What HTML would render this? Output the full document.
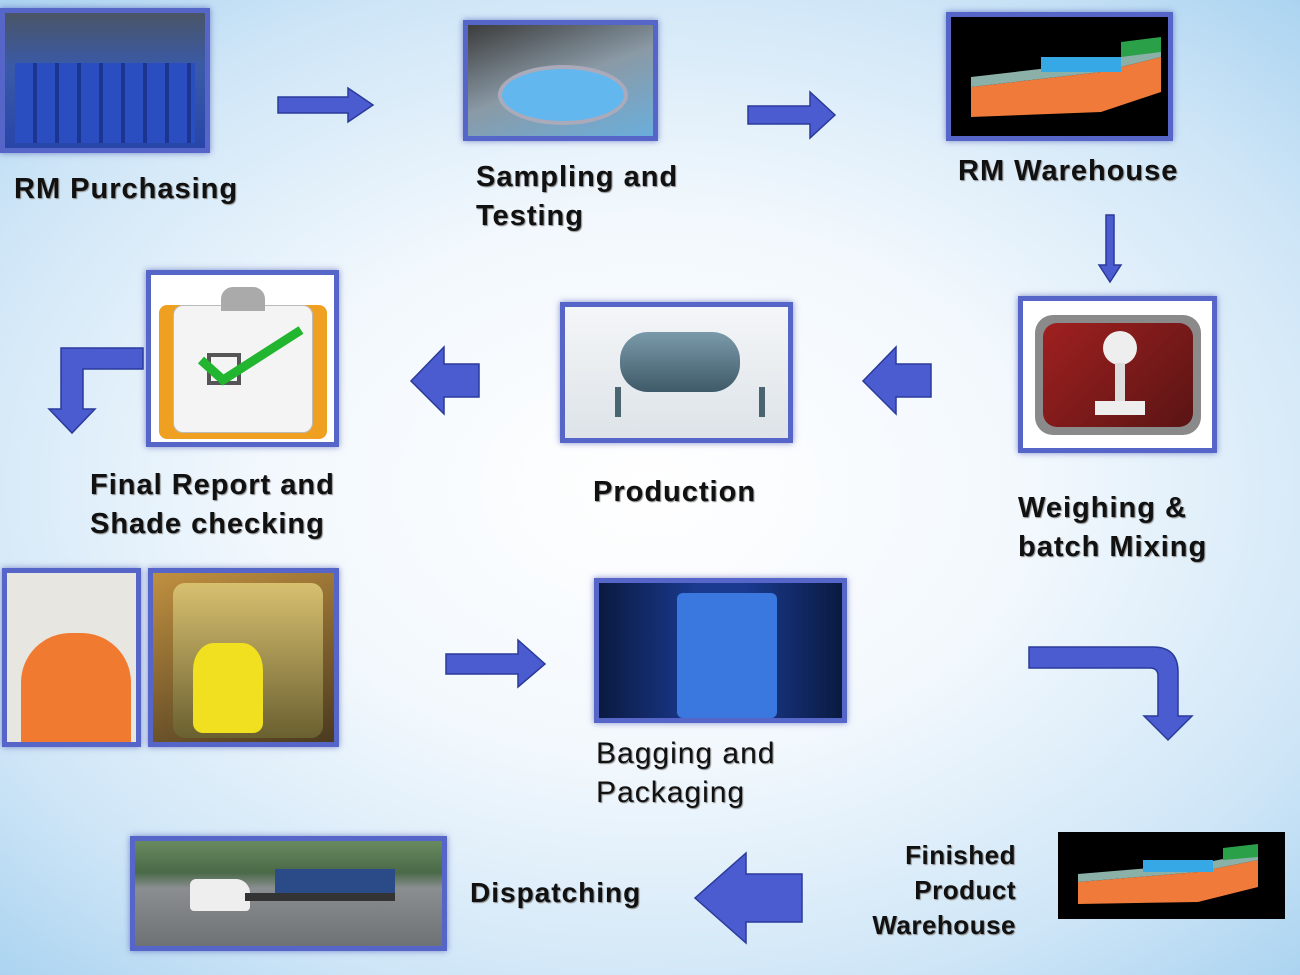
<!DOCTYPE html>
<html><head><meta charset="utf-8"><style>
*{margin:0;padding:0;box-sizing:border-box}
body{width:1300px;height:975px;overflow:hidden;position:relative;
background:radial-gradient(ellipse 75% 70% at 50% 50%,#ffffff 0%,#f2f8fd 40%,#cfe6f7 75%,#a8d2f0 100%);
font-family:"Liberation Sans",sans-serif}
.f{position:absolute;border:5px solid #5565c8;box-shadow:0 0 6px rgba(60,70,170,.6);overflow:hidden}
.l{position:absolute;font-weight:bold;font-size:29px;color:#111;line-height:39px;text-shadow:1px 1px 1px #888;letter-spacing:1px}
svg.a{position:absolute;overflow:visible}
</style></head><body>

<div class="f" style="left:0;top:8px;width:210px;height:145px;background:linear-gradient(180deg,#4a5566 0%,#3a5aa8 40%,#2746a8 100%)">
<div style="position:absolute;left:10px;top:50px;width:180px;height:80px;background:repeating-linear-gradient(90deg,#2a4ec0 0 18px,#1c3590 18px 22px)"></div></div>
<div class="l" style="left:14px;top:170px">RM Purchasing</div>

<svg class="a" style="left:278px;top:88px" width="96" height="34"><polygon points="0,9 70,9 70,0 95,17 70,34 70,25 0,25" fill="#4a5cd0" stroke="#2a3a9a" stroke-width="1.5"/></svg>

<div class="f" style="left:463px;top:20px;width:195px;height:121px;background:linear-gradient(160deg,#3c3c3c,#8a9aa6 50%,#6aaedc)">
<div style="position:absolute;left:30px;top:40px;width:130px;height:60px;border-radius:50%;background:#62b8ee;border:4px solid #aab"></div></div>
<div class="l" style="left:476px;top:158px">Sampling and<br>Testing</div>

<svg class="a" style="left:748px;top:92px" width="88" height="46"><polygon points="0,14 62,14 62,0 87,23 62,46 62,32 0,32" fill="#4a5cd0" stroke="#2a3a9a" stroke-width="1.5"/></svg>

<div class="f" style="left:946px;top:12px;width:227px;height:129px;background:#000">
<svg width="220" height="120"><polygon points="20,70 150,55 210,40 210,75 150,95 20,100" fill="#f07a3a"/><polygon points="20,60 150,45 210,30 210,40 150,55 20,70" fill="#8ab0a8"/><rect x="90" y="40" width="80" height="15" fill="#37a8e6"/><polygon points="170,25 210,20 210,35 170,40" fill="#2aa048"/></svg></div>
<div class="l" style="left:958px;top:152px">RM Warehouse</div>

<svg class="a" style="left:1098px;top:215px" width="24" height="68"><polygon points="8,0 16,0 16,50 23,50 12,67 1,50 8,50" fill="#4a5cd0" stroke="#2a3a9a" stroke-width="1.5"/></svg>

<div class="f" style="left:1018px;top:296px;width:199px;height:157px;background:#fff">
<div style="position:absolute;left:12px;top:14px;width:166px;height:120px;border-radius:18px;background:#8a8a8a;padding:8px"><div style="width:100%;height:100%;border-radius:14px;background:linear-gradient(135deg,#a02020,#5a1414)"></div></div>
<div style="position:absolute;left:80px;top:30px;width:34px;height:34px;border-radius:50%;background:#eee"></div>
<div style="position:absolute;left:92px;top:62px;width:10px;height:40px;background:#ddd"></div>
<div style="position:absolute;left:72px;top:100px;width:50px;height:14px;background:#eee"></div></div>
<div class="l" style="left:1018px;top:489px">Weighing &amp;<br>batch Mixing</div>

<svg class="a" style="left:862px;top:347px" width="70" height="68"><polygon points="69,17 34,17 34,0 1,34 34,67 34,50 69,50" fill="#4a5cd0" stroke="#2a3a9a" stroke-width="1.5"/></svg>

<div class="f" style="left:560px;top:302px;width:233px;height:141px;background:linear-gradient(180deg,#f4f6f8,#dde3e8)">
<div style="position:absolute;left:55px;top:25px;width:120px;height:60px;border-radius:28px;background:linear-gradient(180deg,#7a9aaa,#3f5a68)"></div>
<div style="position:absolute;left:50px;top:80px;width:150px;height:30px;border-left:6px solid #4a6470;border-right:6px solid #4a6470"></div></div>
<div class="l" style="left:593px;top:473px">Production</div>

<svg class="a" style="left:410px;top:347px" width="70" height="68"><polygon points="69,17 34,17 34,0 1,34 34,67 34,50 69,50" fill="#4a5cd0" stroke="#2a3a9a" stroke-width="1.5"/></svg>

<div class="f" style="left:146px;top:270px;width:193px;height:177px;background:#fff">
<div style="position:absolute;left:8px;top:30px;width:168px;height:134px;border-radius:8px;background:#f0a020"></div>
<div style="position:absolute;left:22px;top:30px;width:140px;height:128px;border-radius:10px;background:#f4f4f4;border:1px solid #bbb"></div>
<div style="position:absolute;left:70px;top:12px;width:44px;height:24px;border-radius:12px 12px 0 0;background:#aaa"></div>
<svg style="position:absolute;left:40px;top:50px" width="120" height="80"><rect x="18" y="30" width="30" height="28" fill="none" stroke="#555" stroke-width="4"/><polyline points="10,35 32,55 110,5" fill="none" stroke="#22b530" stroke-width="9"/></svg></div>
<div class="l" style="left:90px;top:466px">Final Report and<br>Shade checking</div>

<svg class="a" style="left:48px;top:347px" width="96" height="88"><polygon points="95,1 95,22 35,22 35,62 47,62 24,86 1,62 13,62 13,1" fill="#4a5cd0" stroke="#2a3a9a" stroke-width="1.5"/></svg>

<div class="f" style="left:2px;top:568px;width:139px;height:179px;background:#e8e6e0">
<div style="position:absolute;left:14px;top:60px;width:110px;height:110px;background:#f07a30;border-radius:45% 45% 0 0"></div></div>
<div class="f" style="left:148px;top:568px;width:191px;height:179px;background:linear-gradient(160deg,#c09040,#4a3a20)">
<div style="position:absolute;left:20px;top:10px;width:150px;height:155px;border-radius:12px;background:linear-gradient(180deg,#d8c070,#6a6030)"></div>
<div style="position:absolute;left:40px;top:70px;width:70px;height:90px;background:#f0e020;border-radius:30% 30% 10px 10px"></div></div>

<svg class="a" style="left:446px;top:640px" width="100" height="48"><polygon points="0,14 72,14 72,0 99,24 72,47 72,34 0,34" fill="#4a5cd0" stroke="#2a3a9a" stroke-width="1.5"/></svg>

<div class="f" style="left:594px;top:578px;width:253px;height:145px;background:linear-gradient(90deg,#0a1a40,#1a3a90 40%,#1a3a90 60%,#0a1a40)">
<div style="position:absolute;left:78px;top:10px;width:100px;height:125px;background:#3a78e0;border-radius:6px"></div></div>
<div class="l" style="left:596px;top:734px;font-weight:normal;font-size:30px">Bagging and<br>Packaging</div>

<svg class="a" style="left:1028px;top:646px" width="166" height="96"><path d="M1,1 H125 Q150,1 150,26 V70 H164 L140,94 L116,70 H130 V30 Q130,22 122,22 H1 Z" fill="#4a5cd0" stroke="#2a3a9a" stroke-width="1.5"/></svg>

<div style="position:absolute;left:1058px;top:832px;width:227px;height:87px;background:#000">
<svg width="227" height="87"><polygon points="20,50 140,40 200,28 200,55 140,70 20,72" fill="#f07a3a"/><polygon points="20,42 140,32 200,20 200,28 140,40 20,50" fill="#8ab0a8"/><rect x="85" y="28" width="70" height="12" fill="#37a8e6"/><polygon points="165,16 200,12 200,25 165,28" fill="#2aa048"/></svg></div>
<div class="l" style="left:820px;top:838px;width:196px;text-align:right;font-size:26px;line-height:35px;letter-spacing:.5px">Finished<br>Product<br>Warehouse</div>

<svg class="a" style="left:694px;top:852px" width="110" height="92"><polygon points="108,22 52,22 52,1 1,46 52,91 52,70 108,70" fill="#4a5cd0" stroke="#2a3a9a" stroke-width="1.5"/></svg>
<div class="l" style="left:470px;top:873px;font-size:28px">Dispatching</div>

<div class="f" style="left:130px;top:836px;width:317px;height:115px;background:linear-gradient(180deg,#6a8a60 0%,#4a6a48 30%,#8a8e90 45%,#6e7275 100%)">
<div style="position:absolute;left:140px;top:28px;width:120px;height:28px;background:#2a4a88"></div>
<div style="position:absolute;left:55px;top:38px;width:60px;height:32px;background:#eee;border-radius:6px 14px 4px 4px"></div>
<div style="position:absolute;left:110px;top:52px;width:150px;height:8px;background:#333"></div></div>

</body></html>
